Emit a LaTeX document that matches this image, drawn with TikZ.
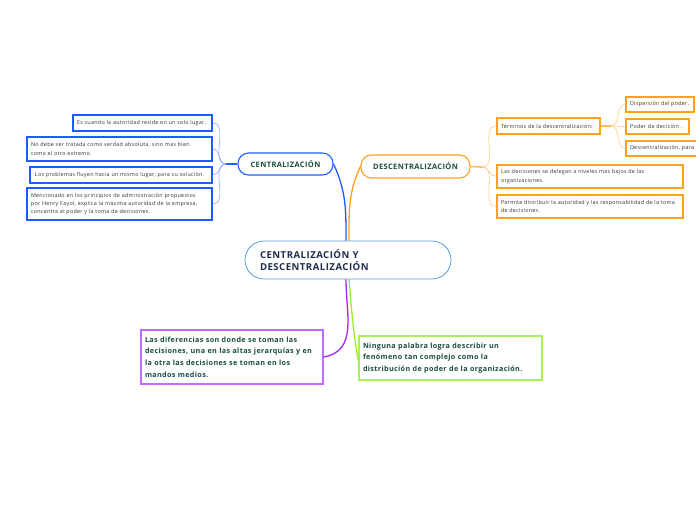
\documentclass[tikz,border=0pt]{standalone}
\usepackage{fontspec}
\setmainfont{Open Sans}[LetterSpace=5]
\definecolor{cblue}{HTML}{1F5CFF}
\definecolor{lblue}{HTML}{8FAAFF}
\definecolor{corange}{HTML}{FFA01E}
\definecolor{lorange}{HTML}{FFCB85}
\definecolor{cpurple}{HTML}{A826F2}
\definecolor{bpurple}{HTML}{C26BFF}
\definecolor{cgreen}{HTML}{99F02E}
\definecolor{bgreen}{HTML}{A6F05A}
\definecolor{mainb}{HTML}{5A9BDC}
\definecolor{dgreen}{HTML}{1B4D3E}
\definecolor{navy}{HTML}{1F2D4D}
\definecolor{leaftxt}{HTML}{333333}
\tikzset{
  leaf/.style={draw, line width=1.6pt, fill=white, text=leaftxt, rectangle,
    font=\fontsize{5.4}{8.2}\selectfont, align=left, inner xsep=4pt, inner ysep=1pt},
  leafb/.style={leaf, draw=cblue},
  leafo/.style={leaf, draw=corange},
  pill/.style={draw, line width=1.1pt, fill=white, rounded corners=10.5pt, text=dgreen,
    font=\bfseries\fontsize{7.5}{9}\selectfont, inner sep=0pt},
  bigbox/.style={draw, line width=1.3pt, fill=white, text=dgreen, rectangle,
    font=\bfseries\fontsize{7.2}{11.7}\selectfont, align=left, inner xsep=4pt, inner ysep=1pt},
  thinb/.style={draw=lblue, line width=0.6pt},
  thino/.style={draw=lorange, line width=0.6pt},
}
\begin{document}
\begin{tikzpicture}[x=1pt,y=-1pt]
\useasboundingbox (0,0) rectangle (696,520);
\clip (0,0) rectangle (696,520);
\fill[white] (0,0) rectangle (696,520);

% main node
\node[draw=mainb, line width=0.8pt, fill=white, rounded corners=19pt, minimum width=206pt, minimum height=38pt,
  text width=176pt, inner xsep=15pt, inner ysep=0pt, align=left, text=navy,
  font=\bfseries\fontsize{9.6}{12.5}\selectfont] (main) at (348,260)
  {CENTRALIZACIÓN Y\\DESCENTRALIZACIÓN};

% level 1
\node[pill, draw=cblue, minimum width=95pt, minimum height=22pt] (cen) at (285.5,164) {CENTRALIZACIÓN};
\node[pill, draw=corange, minimum width=109pt, minimum height=23pt] (desc) at (415.5,166.5) {DESCENTRALIZACIÓN};

\node[bigbox, draw=bpurple, minimum width=182pt, minimum height=54pt, text width=174pt] (purp) at (232,357)
  {Las diferencias son donde se toman las\\decisiones, una en las altas jerarquías y en\\la otra las decisiones se toman en los\\mandos medios.};
\node[bigbox, draw=bgreen, minimum width=183pt, minimum height=44pt, text width=175pt] (grn) at (450.5,358)
  {Ninguna palabra logra describir un\\fenómeno tan complejo como la\\distribución de poder de la organización.};

% left leaves
\node[leafb, minimum width=139pt, minimum height=16pt, text width=131pt] (l1) at (142.5,123)
  {Es cuando la autoridad reside en un solo lugar.};
\node[leafb, minimum width=185pt, minimum height=24pt, text width=177pt] (l2) at (119.5,149)
  {No debe ser tratada como verdad absoluta, sino mas bien\\como el otro extremo.};
\node[leafb, minimum width=182pt, minimum height=16pt, text width=174pt] (l3) at (121,175)
  {\hspace*{1pt}Los problemas fluyen hacia un mismo lugar, para su solución.};
\node[leafb, minimum width=185pt, minimum height=32pt, text width=177pt] (l4) at (119.5,204)
  {Mencionado en los principios de administración propuestos\\por Henry Fayol, explica la máxima autoridad de la empresa,\\concentra el poder y la toma de decisiones.};

% right leaves
\node[leafo, minimum width=103pt, minimum height=16pt, text width=95pt] (t) at (548.5,126)
  {Términos de la descentralización:};
\node[leafo, minimum width=68pt, minimum height=15pt, text width=60pt] (d1) at (660,104.5)
  {Dispersión del poder.};
\node[leafo, minimum width=63pt, minimum height=15pt, text width=55pt] (d2) at (657.5,126.5)
  {Poder de decisión .};
\node[leafo, minimum width=134pt, minimum height=15pt, text width=126pt] (d3) at (693,148.5)
  {Descentralización, para};
\node[leafo, minimum width=186pt, minimum height=23pt, text width=178pt] (r2) at (590,176.5)
  {Las decisiones se delegan a niveles mas bajos de las\\organizaciones.};
\node[leafo, minimum width=186pt, minimum height=23pt, text width=178pt] (r3) at (590,206.5)
  {Permite distribuir la autoridad y las responsabilidad de la toma\\de decisiones.};

% junction coordinates
\coordinate (jl) at (226,164);
\coordinate (jr) at (482,167);
\coordinate (jt) at (611,126);

% main connectors
\draw[cblue, line width=1.3pt] ([xshift=-2pt]main.north) to[out=90, in=-65] (cen.east);
\draw[corange, line width=1.3pt] ([xshift=1pt]main.north) to[out=90, in=-115] (desc.west);
\draw[cpurple, line width=1.3pt] ([xshift=-2pt]main.south) to[out=-90, in=10, looseness=1.1] (purp.east);
\draw[cgreen, line width=1.3pt] ([xshift=1pt]main.south) to[out=-85, in=100] ([yshift=-3pt]grn.west);

% left branches
\draw[cblue, line width=1.6pt] (cen.west) -- (jl);
\foreach \n in {l1,l2,l3,l4} \draw[thinb] (jl) to[out=180,in=0] (\n.east);

% right branches
\draw[corange!70, line width=1.6pt] (desc.east) -- (jr);
\foreach \n in {t,r2,r3} \draw[thino] (jr) to[out=0,in=180] (\n.west);
\draw[corange!70, line width=1.6pt] (t.east) -- (jt);
\foreach \n in {d1,d2,d3} \draw[thino] (jt) to[out=0,in=180] (\n.west);
\end{tikzpicture}
\end{document}
